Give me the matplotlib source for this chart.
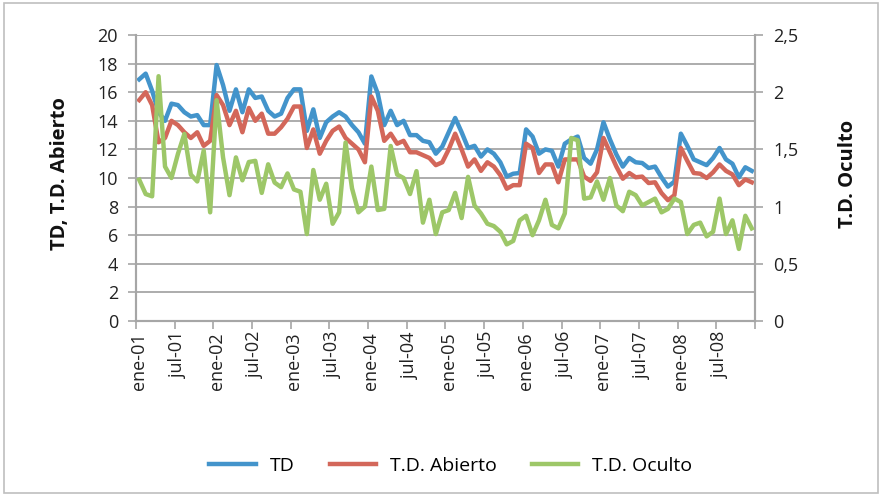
import numpy as np
import matplotlib
matplotlib.use("Agg")
import matplotlib.pyplot as plt
from matplotlib.patches import Rectangle
from matplotlib.ticker import FixedLocator, NullFormatter

plt.rcParams['font.family'] = ['Open Sans', 'DejaVu Sans']

# monthly series, ene-01 .. dic-08
td = [16.9, 17.3, 16.1, 14.6, 14.0, 15.2, 15.1, 14.6, 14.3, 14.4, 13.7, 13.7,
      17.9, 16.5, 14.7, 16.2, 14.6, 16.2, 15.6, 15.7, 14.7, 14.3, 14.5, 15.6,
      16.2, 16.2, 13.3, 14.8, 12.8, 13.9, 14.3, 14.6, 14.3, 13.7, 13.2, 12.4,
      17.1, 15.9, 13.7, 14.7, 13.7, 14.0, 13.0, 13.0, 12.6, 12.5, 11.7, 12.2,
      13.2, 14.2, 13.2, 12.1, 12.25, 11.5, 12.0, 11.7, 11.1, 10.1, 10.3, 10.35,
      13.4, 12.9, 11.7, 12.0, 11.9, 10.8, 12.4, 12.7, 12.9, 11.4, 11.0, 12.0,
      13.9, 12.7, 11.65, 10.8, 11.4, 11.1, 11.05, 10.7, 10.8, 10.05, 9.4, 9.75,
      13.1, 12.25, 11.3, 11.1, 10.9, 11.4, 12.1, 11.3, 11.0, 10.05, 10.75, 10.5]

td_abierto = [15.45, 16.0, 15.1, 12.5, 12.8, 14.0, 13.7, 13.2, 12.8, 13.2, 12.25, 12.6,
              15.8, 15.1, 13.7, 14.7, 13.2, 14.9, 14.0, 14.5, 13.1, 13.1, 13.55, 14.15,
              15.0, 15.0, 12.1, 13.4, 11.7, 12.6, 13.3, 13.6, 12.8, 12.4, 12.0, 11.1,
              15.7, 14.7, 12.6, 13.1, 12.4, 12.6, 11.8, 11.8, 11.6, 11.4, 10.9, 11.1,
              12.0, 13.1, 12.0, 10.8, 11.3, 10.5, 11.1, 10.8, 10.2, 9.25, 9.5, 9.5,
              12.4, 12.1, 10.35, 10.95, 10.95, 9.7, 11.3, 11.3, 11.3, 10.1, 9.8, 10.4,
              12.8, 11.8, 10.8, 9.95, 10.35, 10.05, 10.1, 9.65, 9.7, 8.95, 8.45, 8.8,
              12.1, 11.2, 10.35, 10.3, 10.0, 10.4, 10.95, 10.5, 10.25, 9.5, 9.9, 9.7]

td_oculto = [1.235, 1.11, 1.09, 2.14, 1.35, 1.25, 1.46, 1.635, 1.28, 1.22, 1.49, 0.95,
             1.93, 1.43, 1.10, 1.43, 1.23, 1.39, 1.40, 1.12, 1.37, 1.21, 1.17, 1.29,
             1.15, 1.13, 0.76, 1.32, 1.06, 1.20, 0.85, 0.95, 1.56, 1.16, 0.95, 1.00,
             1.35, 0.97, 0.98, 1.53, 1.28, 1.25, 1.11, 1.31, 0.86, 1.06, 0.76, 0.95,
             0.97, 1.12, 0.90, 1.26, 1.01, 0.94, 0.85, 0.83, 0.78, 0.67, 0.70, 0.88,
             0.92, 0.75, 0.88, 1.06, 0.84, 0.81, 0.94, 1.60, 1.58, 1.07, 1.08, 1.22,
             1.06, 1.25, 1.01, 0.96, 1.13, 1.10, 1.01, 1.04, 1.07, 0.95, 0.98, 1.07,
             1.04, 0.76, 0.84, 0.86, 0.74, 0.78, 1.07, 0.76, 0.88, 0.63, 0.92, 0.81]

month_labels = ['ene-01', 'jul-01', 'ene-02', 'jul-02', 'ene-03', 'jul-03', 'ene-04', 'jul-04',
                'ene-05', 'jul-05', 'ene-06', 'jul-06', 'ene-07', 'jul-07', 'ene-08', 'jul-08']
left_ticks = [0, 2, 4, 6, 8, 10, 12, 14, 16, 18, 20]
right_ticks = [0, 0.5, 1, 1.5, 2, 2.5]
right_tick_labels = ['0', '0,5', '1', '1,5', '2', '2,5']

c_td = '#4394CB'
c_ab = '#D3675A'
c_oc = '#9DC768'
grid_c = '#A6A6A6'
txt_c = '#222222'

x = np.arange(len(td)) + 0.5

fig = plt.figure(figsize=(8.82, 4.96), dpi=100)
ax = fig.add_axes([0.1542, 0.3528, 0.7018, 0.5766])
ax2 = ax.twinx()

l1, = ax.plot(x, td, color=c_td, lw=3.2, solid_joinstyle='round', label='TD', zorder=3)
l2, = ax.plot(x, td_abierto, color=c_ab, lw=3.2, solid_joinstyle='round', label='T.D. Abierto', zorder=3)
l3, = ax2.plot(x, td_oculto, color=c_oc, lw=3.2, solid_joinstyle='round', label='T.D. Oculto', zorder=3)

ax.set_xlim(0, len(td))
ax.set_ylim(0, 20)
ax2.set_ylim(0, 2.5)

ax.set_yticks(left_ticks)
ax.set_yticklabels([str(t) for t in left_ticks])
ax2.set_yticks(right_ticks)
ax2.set_yticklabels(right_tick_labels)

# x ticks at category boundaries, labels at category centres
ax.xaxis.set_major_locator(FixedLocator(np.arange(0, len(td) + 1, 6)))
ax.xaxis.set_major_formatter(NullFormatter())
ax.xaxis.set_minor_locator(FixedLocator(np.arange(0, len(td), 6) + 0.5))
ax.set_xticklabels(month_labels, minor=True, rotation=90)
ax.tick_params(axis='x', which='major', length=6, width=1.2, color=grid_c, direction='out')
ax.tick_params(axis='x', which='minor', length=0, pad=8, labelsize=13, labelcolor=txt_c)

ax.tick_params(axis='y', length=6, width=1.2, color=grid_c, pad=7, labelsize=13, labelcolor=txt_c)
ax2.tick_params(axis='y', length=6, width=1.2, color=grid_c, pad=7, labelsize=13, labelcolor=txt_c)

ax.grid(axis='y', color=grid_c, lw=1.3)
ax.set_axisbelow(True)
for a in (ax, ax2):
    a.spines['top'].set_visible(False)
    for s in ('left', 'right', 'bottom'):
        a.spines[s].set_color(grid_c)
        a.spines[s].set_linewidth(1.5)

fig.text(0.068, 0.65, 'TD, T.D. Abierto', rotation=90, ha='center', va='center',
         fontsize=14.5, fontweight='bold', color='#111111')
fig.text(0.962, 0.65, 'T.D. Oculto', rotation=90, ha='center', va='center',
         fontsize=14.5, fontweight='bold', color='#111111')

fig.legend(handles=[l1, l2, l3], loc='center', bbox_to_anchor=(0.511, 0.061), ncol=3,
           frameon=False, fontsize=14, handlelength=2.4, columnspacing=1.8, handletextpad=0.7)

fig.patches.append(Rectangle((0.004, 0.006), 0.991, 0.988, transform=fig.transFigure,
                             fill=False, edgecolor='#BFBFBF', lw=1.2))

fig.savefig('out.png', dpi=100)
